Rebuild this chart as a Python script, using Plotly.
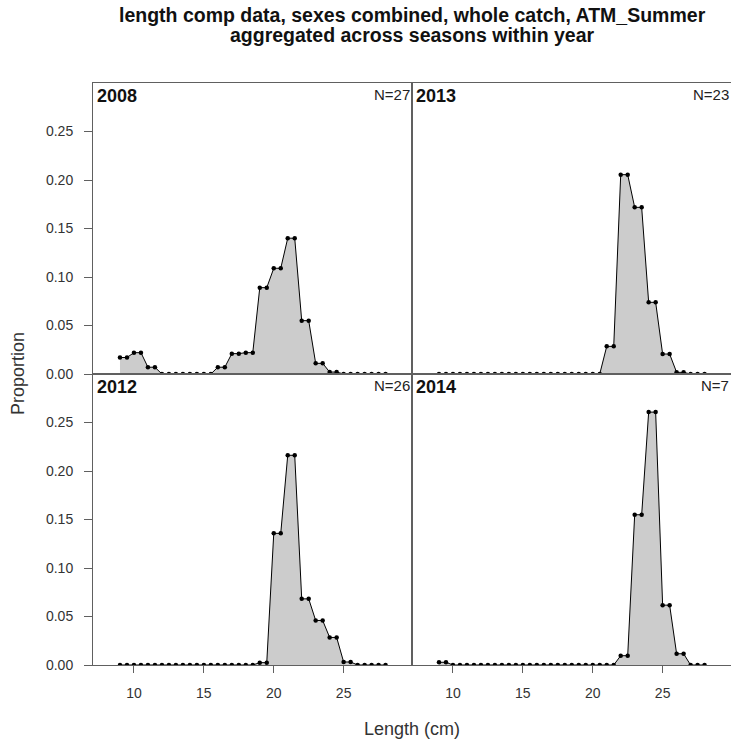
import plotly.graph_objects as go

# Length bins (cm), 0.5 cm steps
lengths = [9.0 + 0.5 * i for i in range(39)]

years = ["2008", "2013", "2012", "2014"]
n_samples = ["N=27", "N=23", "N=26", "N=7"]

prop_2008 = [0.017, 0.017, 0.022, 0.022, 0.007, 0.007,
             0, 0, 0, 0, 0, 0, 0, 0,
             0.007, 0.007, 0.021, 0.021, 0.022, 0.022,
             0.089, 0.089, 0.109, 0.109, 0.140, 0.140,
             0.055, 0.055, 0.011, 0.011, 0.002, 0.002,
             0, 0, 0, 0, 0, 0, 0]

prop_2013 = [0, 0, 0, 0, 0, 0, 0, 0, 0, 0,
             0, 0, 0, 0, 0, 0, 0, 0, 0, 0,
             0, 0, 0, 0,
             0.0285, 0.0285, 0.2055, 0.2055, 0.1718, 0.1718,
             0.0739, 0.0739, 0.0206, 0.0206, 0.0017, 0.0017,
             0, 0, 0]

prop_2012 = [0, 0, 0, 0, 0, 0, 0, 0, 0, 0,
             0, 0, 0, 0, 0, 0, 0, 0, 0, 0,
             0.0024, 0.0024, 0.1357, 0.1357, 0.2162, 0.2162,
             0.0682, 0.0682, 0.0459, 0.0459, 0.0284, 0.0284,
             0.0031, 0.0031, 0, 0, 0, 0, 0]

prop_2014 = [0.0028, 0.0028, 0, 0, 0, 0, 0, 0, 0, 0,
             0, 0, 0, 0, 0, 0, 0, 0, 0, 0,
             0, 0, 0, 0, 0, 0,
             0.0096, 0.0096, 0.1549, 0.1549, 0.2607, 0.2607,
             0.0617, 0.0617, 0.0116, 0.0116, 0, 0, 0]

series = [prop_2008, prop_2013, prop_2012, prop_2014]

x_ticks = [10, 15, 20, 25]
y_ticks = [0.0, 0.05, 0.10, 0.15, 0.20, 0.25]
x_range = [7.07, 29.89]
y_range = [0, 0.30]

title_line1 = "length comp data, sexes combined, whole catch, ATM_Summer"
title_line2 = "aggregated across seasons within year"

FONT = "Liberation Sans, Arial, sans-serif"
frame = "#606060"

fig = go.Figure()
axes = [("x", "y"), ("x2", "y2"), ("x3", "y3"), ("x4", "y4")]
for (xa, ya), vals in zip(axes, series):
    fig.add_trace(go.Scatter(
        x=lengths, y=vals, xaxis=xa, yaxis=ya,
        mode="lines+markers", fill="tozeroy", fillcolor="#cccccc",
        line=dict(color="black", width=1),
        marker=dict(color="black", size=4.5),
        showlegend=False, hoverinfo="skip"))

domains = {"x": [0, 0.5], "x2": [0.5, 1], "x3": [0, 0.5], "x4": [0.5, 1],
           "y": [0.5, 1], "y2": [0.5, 1], "y3": [0, 0.5], "y4": [0, 0.5]}


def xax(name, anchor, bottom):
    d = dict(domain=domains[name], anchor=anchor, range=x_range,
             showgrid=False, zeroline=False, showline=True, mirror=True,
             linecolor=frame, linewidth=1)
    if bottom:
        d.update(tickvals=x_ticks, ticks="outside", ticklen=7, tickcolor=frame,
                 tickfont=dict(family=FONT, size=14, color="#333"),
                 ticklabelstandoff=8)
    else:
        d.update(showticklabels=False, ticks="")
    return d


def yax(name, anchor, left):
    d = dict(domain=domains[name], anchor=anchor, range=y_range,
             showgrid=False, zeroline=False, showline=True, mirror=True,
             linecolor=frame, linewidth=1)
    if left:
        d.update(tickvals=y_ticks, tickformat=".2f", ticks="outside", ticklen=8,
                 tickcolor=frame, tickfont=dict(family=FONT, size=14, color="#333"),
                 ticklabelstandoff=8)
    else:
        d.update(showticklabels=False, ticks="")
    return d


fig.update_layout(
    width=731, height=743,
    margin=dict(l=93, r=0, t=83, b=78),
    paper_bgcolor="white", plot_bgcolor="white",
    xaxis=xax("x", "y", False), yaxis=yax("y", "x", True),
    xaxis2=xax("x2", "y2", False), yaxis2=yax("y2", "x2", False),
    xaxis3=xax("x3", "y3", True), yaxis3=yax("y3", "x3", True),
    xaxis4=xax("x4", "y4", True), yaxis4=yax("y4", "x4", False),
)

annotations = []
for (xa, ya), yr, n in zip(axes, years, n_samples):
    annotations.append(dict(
        text="<b>" + yr + "</b>", xref=xa + " domain", yref=ya + " domain",
        x=0, y=1, xanchor="left", yanchor="top", xshift=2, yshift=-1,
        showarrow=False, font=dict(family=FONT, size=18, color="#111")))
    annotations.append(dict(
        text=n, xref=xa + " domain", yref=ya + " domain",
        x=1, y=1, xanchor="right", yanchor="top", xshift=0, yshift=-1,
        showarrow=False, font=dict(family=FONT, size=15, color="#222")))

annotations.append(dict(
    text="<b>" + title_line1 + "</b>",
    xref="paper", yref="paper", x=0.5, y=1, yanchor="middle", yshift=68,
    showarrow=False, font=dict(family=FONT, size=19.5, color="#111")))
annotations.append(dict(
    text="<b>" + title_line2 + "</b>",
    xref="paper", yref="paper", x=0.5, y=1, yanchor="middle", yshift=48,
    showarrow=False, font=dict(family=FONT, size=19.5, color="#111")))
annotations.append(dict(
    text="Length (cm)", xref="paper", yref="paper", x=0.5, y=0,
    yanchor="middle", yshift=-64, showarrow=False,
    font=dict(family=FONT, size=18, color="#333")))
annotations.append(dict(
    text="Proportion", xref="paper", yref="paper", x=0, y=0.5,
    xanchor="center", xshift=-75, textangle=-90, showarrow=False,
    font=dict(family=FONT, size=18, color="#333")))

fig.update_layout(annotations=annotations)

fig.write_html("out.html", config={"displayModeBar": False},
               post_script="document.body.style.margin='0';")
